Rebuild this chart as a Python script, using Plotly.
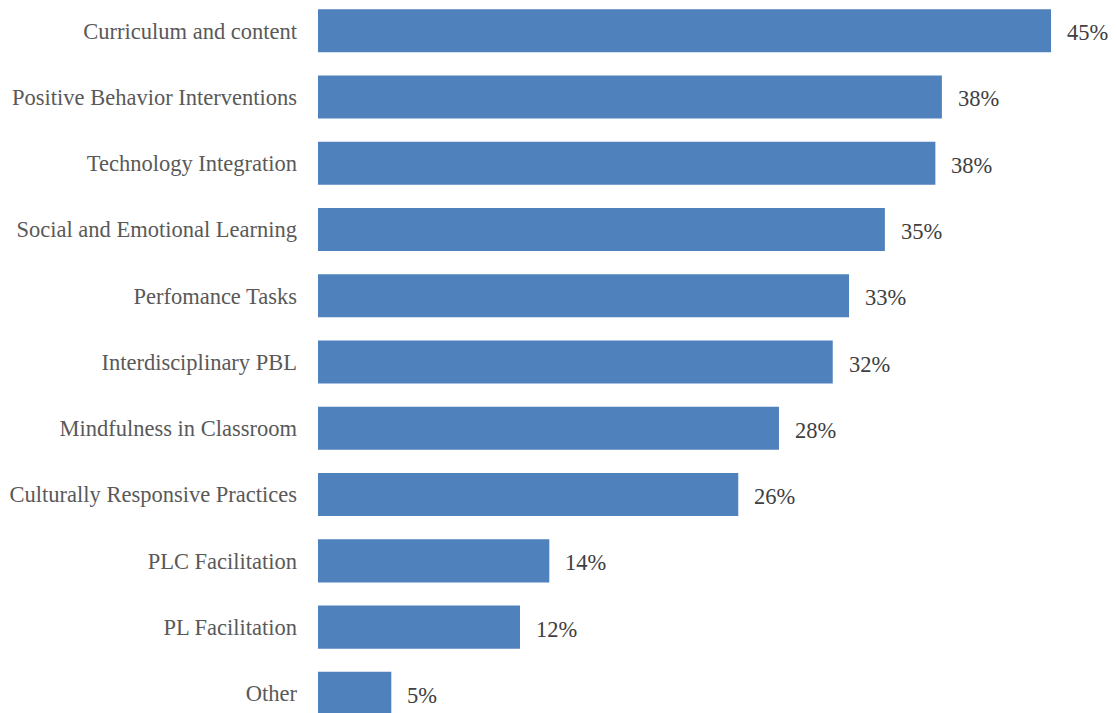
import plotly.graph_objects as go

categories = [
    "Curriculum and content",
    "Positive Behavior Interventions",
    "Technology Integration",
    "Social and Emotional Learning",
    "Perfomance Tasks",
    "Interdisciplinary PBL",
    "Mindfulness in Classroom",
    "Culturally Responsive Practices",
    "PLC Facilitation",
    "PL Facilitation",
    "Other",
]
values = [45.0, 38.3, 37.9, 34.8, 32.6, 31.6, 28.3, 25.8, 14.2, 12.4, 4.5]
labels = ["45%", "38%", "38%", "35%", "33%", "32%", "28%", "26%", "14%", "12%", "5%"]

FONT = "Liberation Serif"

fig = go.Figure(go.Bar(
    x=values, y=categories, orientation="h",
    marker=dict(color="#4F81BD", line=dict(width=0)),
    width=0.65,
))

for c, v, t in zip(categories, values, labels):
    fig.add_annotation(x=v, y=c, text=t, showarrow=False,
                       xanchor="left", xshift=14, yshift=-2,
                       font=dict(family=FONT, size=22.5, color="#404040"))

# page body has an 8px margin, so the figure is sized to fill the rest
fig.update_layout(
    width=1109, height=705,
    margin=dict(l=310, r=0, t=0, b=0),
    plot_bgcolor="white", paper_bgcolor="white",
    showlegend=False,
    xaxis=dict(range=[0, 49.05], visible=False),
    yaxis=dict(categoryorder="array", categoryarray=categories,
               range=[10.296, -0.3425], showgrid=False, zeroline=False,
               showline=False, ticks="", ticklabelstandoff=20,
               tickfont=dict(family=FONT, size=22.5, color="#595959")),
)

fig.write_html("out.html")
